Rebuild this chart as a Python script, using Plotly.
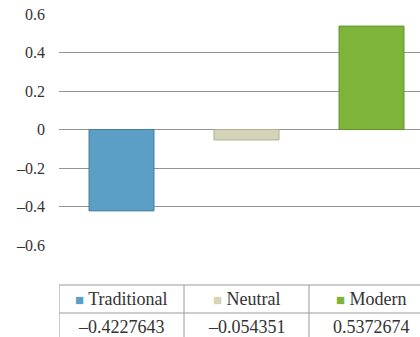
import plotly.graph_objects as go

# Mean orientation scores by group
categories = ["Traditional", "Neutral", "Modern"]
values = [-0.4227643, -0.054351, 0.5372674]
colors = ["#5B9FC6", "#D4D4B8", "#7DB53B"]
edge_colors = ["#45819F", "#B0B094", "#62932D"]
tick_vals = [0.6, 0.4, 0.2, 0, -0.2, -0.4, -0.6]


def fmt(v):
    # typographic minus sign as printed in the table
    return str(v).replace("-", "\u2013")


tick_text = [fmt(t) if t != 0 else "0" for t in tick_vals]

FONT = "Liberation Serif, Times New Roman, Times, serif"
TEXT = "#333333"
GRID = "#939393"
TABLE_LINE = "#9A9A9A"

W, H = 420, 337
ML, MT, MB = 59, 14, 92
plot_h = H - MT - MB
col_px = 125.0  # pixel width of one category column


def py(pix):
    """Pixel row -> paper y coordinate."""
    return (H - MB - pix) / plot_h


x = list(range(len(categories)))

fig = go.Figure()
fig.add_trace(go.Bar(
    x=x, y=values,
    marker=dict(color=colors, line=dict(color=edge_colors, width=1)),
    width=0.52,
    showlegend=False,
    hoverinfo="skip",
))

# Data table beneath the chart
top, mid, bot = py(285), py(313), py(345)
x_left = -0.5
x_right = len(categories) - 0.5
shapes = []
shapes.append(dict(type="line", xref="x", yref="paper", x0=x_left, x1=x_right + 0.2,
                   y0=top, y1=top, line=dict(color=TABLE_LINE, width=1)))
shapes.append(dict(type="line", xref="x", yref="paper", x0=x_left, x1=x_right + 0.2,
                   y0=mid, y1=mid, line=dict(color=TABLE_LINE, width=1)))
for i in range(len(categories) + 1):
    xv = i - 0.5
    shapes.append(dict(type="line", xref="x", yref="paper", x0=xv, x1=xv,
                       y0=top, y1=bot, line=dict(color=TABLE_LINE, width=1)))

annotations = []
for i, (cat, val, col) in enumerate(zip(categories, values, colors)):
    annotations.append(dict(
        x=i, y=(top + mid) / 2, xref="x", yref="paper",
        text=f"<span style='color:{col};font-size:15px'>\u25A0</span> {cat}",
        showarrow=False, font=dict(family=FONT, size=18, color=TEXT),
        xanchor="center", yanchor="middle",
    ))
    annotations.append(dict(
        x=i, y=(mid + py(340)) / 2, xref="x", yref="paper",
        text=fmt(val),
        showarrow=False, font=dict(family=FONT, size=18, color=TEXT),
        xanchor="center", yanchor="middle",
    ))

fig.update_layout(
    width=W, height=H,
    margin=dict(l=ML, r=0, t=MT, b=MB, pad=0),
    paper_bgcolor="white", plot_bgcolor="white",
    font=dict(family=FONT, size=16, color=TEXT),
    shapes=shapes, annotations=annotations,
    xaxis=dict(range=[-0.5, -0.5 + (W - ML) / col_px], showticklabels=False,
               showgrid=False, zeroline=False, showline=False, fixedrange=True),
    yaxis=dict(range=[-0.6, 0.6], tickvals=tick_vals, ticktext=tick_text,
               showgrid=True, gridcolor=GRID, gridwidth=1.4,
               zeroline=True, zerolinecolor=GRID, zerolinewidth=1.4,
               showline=False, ticks="", ticklabelstandoff=13,
               tickfont=dict(family=FONT, size=16, color=TEXT)),
)

fig.write_html("out.html")
